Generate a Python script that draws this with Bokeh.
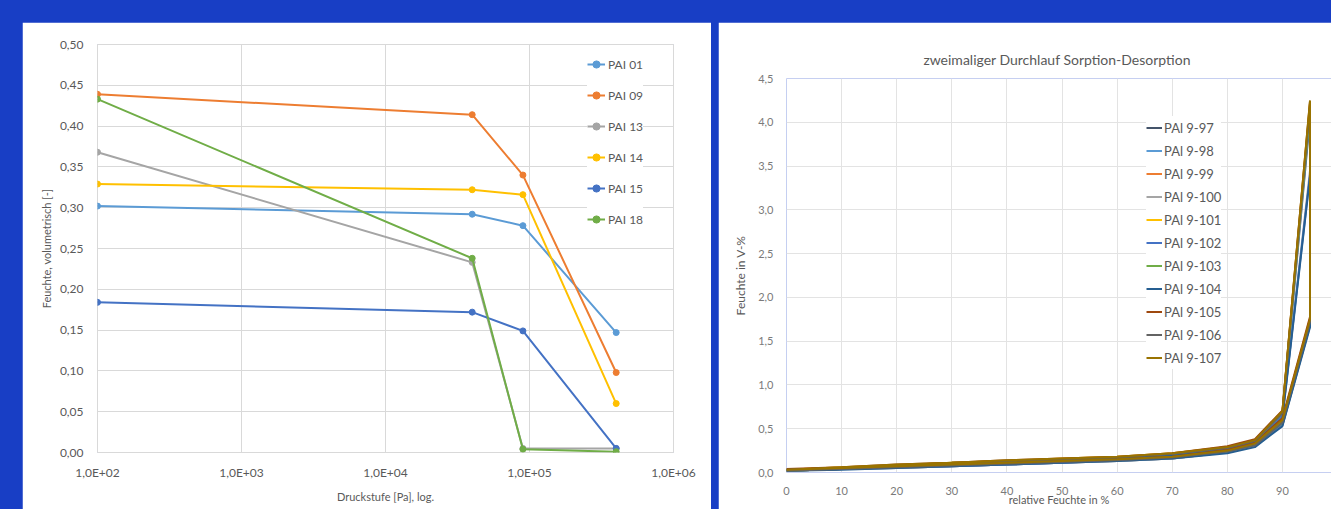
from bokeh.plotting import figure
from bokeh.layouts import row, column, Spacer
from bokeh.models import FixedTicker, CustomJSTickFormatter, Legend, LegendItem
from bokeh.embed import file_html
from bokeh.resources import INLINE

FONT = "Lato"
BLUE_BG = "#183EC5"
GRID = "#D9D9D9"
TEXT = "#595959"

# ---------------- left chart data ----------------
pressure_pa = [1e2, 4e4, 9e4, 4e5]
pai_names = ["PAI 01", "PAI 09", "PAI 13", "PAI 14", "PAI 15", "PAI 18"]
pai_01 = [0.302, 0.292, 0.278, 0.147]
pai_09 = [0.439, 0.414, 0.340, 0.098]
pai_13 = [0.368, 0.233, 0.005, 0.005]
pai_14 = [0.329, 0.322, 0.316, 0.060]
pai_15 = [0.184, 0.172, 0.149, 0.005]
pai_18 = [0.433, 0.238, 0.004, 0.001]
pai_colors = ["#5B9BD5", "#ED7D31", "#A5A5A5", "#FFC000", "#4472C4", "#70AD47"]

left_x_ticks = [1e2, 1e3, 1e4, 1e5, 1e6]
left_x_labels = ["1,0E+02", "1,0E+03", "1,0E+04", "1,0E+05", "1,0E+06"]
left_y_ticks = [0.0, 0.05, 0.10, 0.15, 0.20, 0.25, 0.30, 0.35, 0.40, 0.45, 0.50]
left_y_labels = ["0,00", "0,05", "0,10", "0,15", "0,20", "0,25", "0,30", "0,35", "0,40", "0,45", "0,50"]

# ---------------- right chart data ----------------
rel_humidity = [0, 10, 20, 30, 40, 50, 60, 70, 80, 85, 90, 95,
                95, 90, 85, 80, 70, 60, 50, 40, 30, 20, 10, 0]
s_9_97 = [0.02, 0.04, 0.05, 0.07, 0.09, 0.11, 0.13, 0.16, 0.23, 0.30, 0.54, 1.68,
          4.05, 0.66, 0.35, 0.27, 0.20, 0.16, 0.14, 0.12, 0.10, 0.07, 0.05, 0.03]
s_9_98 = [0.02, 0.04, 0.06, 0.08, 0.10, 0.12, 0.14, 0.17, 0.24, 0.31, 0.56, 1.72,
          4.12, 0.67, 0.36, 0.28, 0.21, 0.17, 0.15, 0.13, 0.10, 0.08, 0.05, 0.03]
s_9_99 = [0.02, 0.04, 0.06, 0.08, 0.10, 0.12, 0.14, 0.17, 0.24, 0.32, 0.58, 1.74,
          4.20, 0.69, 0.37, 0.28, 0.21, 0.17, 0.15, 0.13, 0.11, 0.08, 0.05, 0.03]
s_9_100 = [0.02, 0.04, 0.05, 0.07, 0.09, 0.11, 0.13, 0.16, 0.23, 0.30, 0.55, 1.70,
           3.45, 0.64, 0.35, 0.27, 0.20, 0.16, 0.14, 0.12, 0.10, 0.07, 0.05, 0.03]
s_9_101 = [0.03, 0.05, 0.06, 0.08, 0.10, 0.12, 0.15, 0.18, 0.25, 0.33, 0.60, 1.76,
           4.22, 0.70, 0.37, 0.29, 0.22, 0.18, 0.16, 0.13, 0.11, 0.08, 0.06, 0.03]
s_9_102 = [0.02, 0.04, 0.06, 0.07, 0.09, 0.11, 0.14, 0.17, 0.24, 0.31, 0.56, 1.71,
           3.40, 0.65, 0.35, 0.27, 0.20, 0.17, 0.15, 0.12, 0.10, 0.08, 0.05, 0.03]
s_9_103 = [0.02, 0.04, 0.06, 0.08, 0.10, 0.12, 0.14, 0.17, 0.24, 0.32, 0.57, 1.73,
           4.15, 0.68, 0.36, 0.28, 0.21, 0.17, 0.15, 0.13, 0.11, 0.08, 0.05, 0.03]
s_9_104 = [0.02, 0.03, 0.05, 0.07, 0.09, 0.11, 0.13, 0.16, 0.22, 0.29, 0.53, 1.66,
           3.38, 0.62, 0.34, 0.26, 0.19, 0.16, 0.14, 0.12, 0.10, 0.07, 0.05, 0.02]
s_9_105 = [0.03, 0.05, 0.07, 0.09, 0.11, 0.13, 0.15, 0.18, 0.26, 0.34, 0.62, 1.78,
           4.24, 0.71, 0.38, 0.30, 0.22, 0.18, 0.16, 0.14, 0.11, 0.09, 0.06, 0.04]
s_9_106 = [0.02, 0.04, 0.06, 0.08, 0.10, 0.12, 0.14, 0.17, 0.24, 0.31, 0.57, 1.72,
           4.18, 0.68, 0.36, 0.28, 0.21, 0.17, 0.15, 0.13, 0.10, 0.08, 0.05, 0.03]
s_9_107 = [0.03, 0.05, 0.07, 0.09, 0.11, 0.13, 0.15, 0.18, 0.25, 0.33, 0.60, 1.75,
           4.25, 0.70, 0.37, 0.29, 0.22, 0.18, 0.16, 0.14, 0.11, 0.09, 0.06, 0.03]
right_names = ["PAl 9-97", "PAl 9-98", "PAl 9-99", "PAl 9-100", "PAl 9-101", "PAl 9-102",
               "PAl 9-103", "PAl 9-104", "PAl 9-105", "PAl 9-106", "PAl 9-107"]
right_colors = ["#44546A", "#5B9BD5", "#ED7D31", "#A5A5A5", "#FFC000", "#4472C4",
                "#70AD47", "#255E91", "#9E480E", "#636363", "#997300"]

right_x_ticks = [0, 10, 20, 30, 40, 50, 60, 70, 80, 90]
right_x_labels = ["0", "10", "20", "30", "40", "50", "60", "70", "80", "90"]
right_y_ticks = [0.0, 0.5, 1.0, 1.5, 2.0, 2.5, 3.0, 3.5, 4.0, 4.5]
right_y_labels = ["0,0", "0,5", "1,0", "1,5", "2,0", "2,5", "3,0", "3,5", "4,0", "4,5"]

LOOKUP = ("const i = tvals.findIndex(t => Math.abs(t - tick) <= 1e-9 * Math.max(1, Math.abs(t)));"
          "return i >= 0 ? tlabels[i] : '';")


def fmt(tick_values, tick_labels):
    return CustomJSTickFormatter(args=dict(tvals=tick_values, tlabels=tick_labels), code=LOOKUP)


def style_axis(ax, label_size, label_color, title_size):
    ax.axis_line_color = None
    ax.major_tick_line_color = None
    ax.minor_tick_line_color = None
    ax.major_tick_in = 0
    ax.major_tick_out = 0
    ax.minor_tick_in = 0
    ax.minor_tick_out = 0
    ax.major_label_text_font = FONT
    ax.major_label_text_font_size = label_size
    ax.major_label_text_color = label_color
    ax.axis_label_text_font = FONT
    ax.axis_label_text_font_size = title_size
    ax.axis_label_text_color = TEXT
    ax.axis_label_text_font_style = "normal"


# ---------------- left figure ----------------
p1 = figure(width=689, height=487, x_axis_type="log", x_range=(1e2, 1e6), y_range=(0, 0.5),
            output_backend="svg", toolbar_location=None,
            min_border_left=75, min_border_right=38, min_border_top=22, min_border_bottom=57,
            background_fill_color="white", border_fill_color="white",
            outline_line_color=GRID)
p1.xaxis.ticker = FixedTicker(ticks=left_x_ticks, minor_ticks=[])
p1.yaxis.ticker = FixedTicker(ticks=left_y_ticks, minor_ticks=[])
p1.xaxis.formatter = fmt(left_x_ticks, left_x_labels)
p1.yaxis.formatter = fmt(left_y_ticks, left_y_labels)
p1.xaxis.axis_label = "Druckstufe [Pa], log."
p1.yaxis.axis_label = "Feuchte, volumetrisch [-]"
style_axis(p1.xaxis[0], "12px", TEXT, "11px")
style_axis(p1.yaxis[0], "12px", TEXT, "11px")
p1.xaxis.major_label_standoff = 12
p1.xaxis.axis_label_standoff = 7
p1.yaxis.major_label_standoff = 14
p1.yaxis.axis_label_standoff = 4
p1.xgrid.grid_line_color = GRID
p1.ygrid.grid_line_color = GRID

left_series = [pai_01, pai_09, pai_13, pai_14, pai_15, pai_18]
left_items = []
for name, vals, col in zip(pai_names, left_series, pai_colors):
    rl = p1.line(pressure_pa, vals, line_color=col, line_width=2)
    rs = p1.scatter(pressure_pa, vals, size=6, fill_color=col, line_color=col)
    left_items.append(LegendItem(label=name, renderers=[rl, rs]))

leg1 = Legend(items=left_items, location=(490, 223), margin=0, padding=4,
              glyph_width=18, glyph_height=20, label_height=20, label_standoff=3, spacing=11,
              label_text_font=FONT, label_text_font_size="12px", label_text_color=TEXT,
              border_line_color=None, background_fill_color="white", background_fill_alpha=1.0)
p1.add_layout(leg1)

# ---------------- right figure ----------------
p2 = figure(width=613, height=487, x_range=(0, 98.9), y_range=(0, 4.5),
            output_backend="svg", toolbar_location=None,
            min_border_left=68, min_border_right=0, min_border_top=56, min_border_bottom=37,
            background_fill_color="white", border_fill_color="white",
            outline_line_color=None)
p2.title.text = "zweimaliger  Durchlauf Sorption-Desorption"
p2.title.align = "center"
p2.title.text_font = FONT
p2.title.text_font_size = "14px"
p2.title.text_color = TEXT
p2.title.text_font_style = "normal"
p2.title.standoff = 22
p2.title.offset = 17
p2.xaxis.ticker = FixedTicker(ticks=right_x_ticks, minor_ticks=[])
p2.yaxis.ticker = FixedTicker(ticks=right_y_ticks, minor_ticks=[])
p2.xaxis.formatter = fmt(right_x_ticks, right_x_labels)
p2.yaxis.formatter = fmt(right_y_ticks, right_y_labels)
p2.xaxis.axis_label = "relative Feuchte in %"
p2.yaxis.axis_label = "Feuchte in V-%"
style_axis(p2.xaxis[0], "11px", "#7A7A7A", "11px")
style_axis(p2.yaxis[0], "11px", "#7A7A7A", "12px")
p2.xaxis.major_label_standoff = 14
p2.xaxis.axis_label_standoff = -5
p2.yaxis.major_label_standoff = 13
p2.yaxis.axis_label_standoff = 7
p2.xgrid.grid_line_color = "#E3E3E3"
p2.ygrid.grid_line_color = "#E3E3E3"

right_series = [s_9_97, s_9_98, s_9_99, s_9_100, s_9_101, s_9_102,
                s_9_103, s_9_104, s_9_105, s_9_106, s_9_107]
right_items = []
for name, vals, col in zip(right_names, right_series, right_colors):
    r = p2.line(rel_humidity, vals, line_color=col, line_width=2)
    right_items.append(LegendItem(label=name, renderers=[r]))

leg2 = Legend(items=right_items, location=(360, 103), margin=0, padding=4,
              glyph_width=16, glyph_height=23, label_height=23, label_standoff=2, spacing=0,
              label_text_font=FONT, label_text_font_size="13px", label_text_color=TEXT,
              border_line_color=None, background_fill_color="white", background_fill_alpha=1.0)
p2.add_layout(leg2)

left_col = column(Spacer(width=689, height=22), p1, spacing=0)
right_col = column(Spacer(width=613, height=22), p2, spacing=0)
layout = row(Spacer(width=22, height=509), left_col, Spacer(width=7, height=509), right_col,
             spacing=0, styles={"background-color": BLUE_BG})

open("out.html", "w").write(file_html(layout, INLINE))
